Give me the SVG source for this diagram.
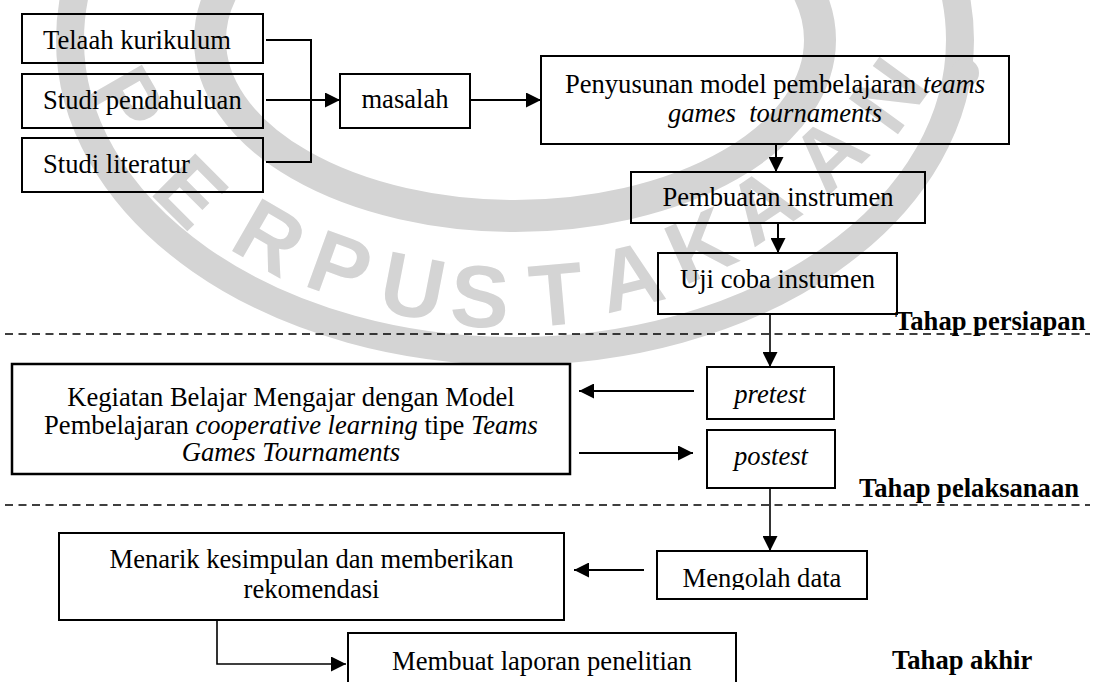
<svg xmlns="http://www.w3.org/2000/svg" width="1093" height="682" viewBox="0 0 1093 682">
<style>
.box{fill:none;stroke:#000;stroke-width:2}
.t{font-family:"Liberation Serif","Times New Roman",serif;font-size:26.6px;fill:#000}
.m{text-anchor:middle}
.i{font-style:italic}
.b{font-weight:bold}
.ln{fill:none;stroke:#000;stroke-width:2}
.thin{fill:none;stroke:#000;stroke-width:1.6}
.dash{fill:none;stroke:#000;stroke-width:1.6;stroke-dasharray:8 5.5}
.wm{font-family:"Liberation Sans",Arial,sans-serif;font-weight:bold;font-size:88px;fill:#d4d4d4;text-anchor:middle}
.ring{fill:none;stroke:#d4d4d4}
</style>
<defs>
<marker id="ah" markerUnits="userSpaceOnUse" markerWidth="15" markerHeight="15" refX="15" refY="7.5" orient="auto">
<path d="M0,0 L15,7.5 L0,15 z" fill="#000"/>
</marker>
<clipPath id="clipMengolah"><rect x="657" y="551" width="210" height="39"/></clipPath>
</defs>
<rect width="1093" height="682" fill="#fff"/>
<g id="watermark">
<ellipse class="ring" cx="515" cy="40" rx="445" ry="311" stroke-width="28"/>
<ellipse class="ring" cx="515" cy="40" rx="305" ry="176" stroke-width="32"/>
<circle cx="965" cy="73" r="14" fill="#d4d4d4"/>
<text class="wm" y="31" transform="translate(128,100) rotate(60)">P</text>
<text class="wm" y="31" transform="translate(191,191) rotate(45)">E</text>
<text class="wm" y="31" transform="translate(270,237) rotate(30)">R</text>
<text class="wm" y="31" transform="translate(340,266) rotate(20)">P</text>
<text class="wm" y="31" transform="translate(413,286) rotate(11)">U</text>
<text class="wm" y="31" transform="translate(480,296) rotate(3)">S</text>
<text class="wm" y="31" transform="translate(556,294) rotate(-5)">T</text>
<text class="wm" y="31" transform="translate(630,276) rotate(-14)">A</text>
<text class="wm" y="31" transform="translate(700,245) rotate(-24)">K</text>
<text class="wm" y="31" transform="translate(762,205) rotate(-34)">A</text>
<text class="wm" y="31" transform="translate(828,153) rotate(-44)">A</text>
<text class="wm" y="31" transform="translate(888,95) rotate(-54)">N</text>
</g>
<g id="connectors">
<polyline class="ln" points="266,40 311,40 311,162 266,162"/>
<line class="ln" x1="266" y1="100" x2="340" y2="100" marker-end="url(#ah)"/>
<line class="ln" x1="470" y1="100" x2="541" y2="100" marker-end="url(#ah)"/>
<line class="ln" x1="776" y1="144" x2="776" y2="172" marker-end="url(#ah)"/>
<line class="ln" x1="778" y1="223" x2="778" y2="253" marker-end="url(#ah)"/>
<line class="thin" x1="770" y1="314" x2="770" y2="367" marker-end="url(#ah)"/>
<line class="ln" x1="694" y1="391" x2="579" y2="391" marker-end="url(#ah)"/>
<line class="ln" x1="579" y1="453" x2="693" y2="453" marker-end="url(#ah)"/>
<line class="thin" x1="770" y1="488" x2="770" y2="551" marker-end="url(#ah)"/>
<line class="ln" x1="644" y1="570" x2="574" y2="570" marker-end="url(#ah)"/>
<polyline class="thin" points="217,620 217,664 346,664" marker-end="url(#ah)"/>
<line class="dash" x1="5" y1="334" x2="1090" y2="334"/>
<line class="dash" x1="5" y1="505" x2="1090" y2="505"/>
</g>
<g id="telaah"><rect class="box" x="22" y="14" width="241" height="49"/><text class="t" x="43" y="49">Telaah kurikulum</text></g>
<g id="studi-pendahuluan"><rect class="box" x="22" y="74" width="241" height="54"/><text class="t" x="43" y="109">Studi pendahuluan</text></g>
<g id="studi-literatur"><rect class="box" x="22" y="138" width="241" height="54"/><text class="t" x="43" y="173">Studi literatur</text></g>
<g id="masalah"><rect class="box" x="340" y="74" width="130" height="54"/><text class="t m" x="405" y="108">masalah</text></g>
<g id="penyusunan"><rect class="box" x="541" y="56" width="468" height="88"/>
<text class="t m" x="775" y="93">Penyusunan model pembelajaran <tspan class="i">teams</tspan></text>
<text class="t m i" x="775" y="122" xml:space="preserve">games  tournaments</text></g>
<g id="pembuatan"><rect class="box" x="631" y="172" width="294" height="51"/><text class="t m" x="778" y="206">Pembuatan instrumen</text></g>
<g id="uji-coba"><rect class="box" x="658" y="253" width="239" height="61"/><text class="t m" x="777.5" y="288">Uji coba instumen</text></g>
<g id="tahap-persiapan"><text class="t b" x="895" y="330">Tahap persiapan</text></g>
<g id="kegiatan"><rect class="box" x="12" y="364" width="558" height="110" style="stroke-width:2.5"/>
<text class="t m" x="291" y="406">Kegiatan Belajar Mengajar dengan Model</text>
<text class="t m" x="291" y="434">Pembelajaran <tspan class="i">cooperative learning</tspan> tipe <tspan class="i">Teams</tspan></text>
<text class="t m i" x="291" y="461">Games Tournaments</text></g>
<g id="pretest"><rect class="box" x="707" y="367" width="127" height="52"/><text class="t m i" x="770" y="403">pretest</text></g>
<g id="postest"><rect class="box" x="707" y="430" width="128" height="58"/><text class="t m i" x="771" y="465">postest</text></g>
<g id="tahap-pelaksanaan"><text class="t b" x="859" y="497">Tahap pelaksanaan</text></g>
<g id="menarik"><rect class="box" x="59" y="533" width="505" height="87"/>
<text class="t m" x="311.5" y="568">Menarik kesimpulan dan memberikan</text>
<text class="t m" x="311.5" y="598">rekomendasi</text></g>
<g id="mengolah"><rect class="box" x="657" y="551" width="210" height="48"/><text class="t m" x="762" y="587" clip-path="url(#clipMengolah)">Mengolah data</text></g>
<g id="membuat"><path class="box" d="M348,684 L348,633 L736,633 L736,684"/><text class="t m" x="542" y="670">Membuat laporan penelitian</text></g>
<g id="tahap-akhir"><text class="t b" x="892" y="669">Tahap akhir</text></g>
</svg>
